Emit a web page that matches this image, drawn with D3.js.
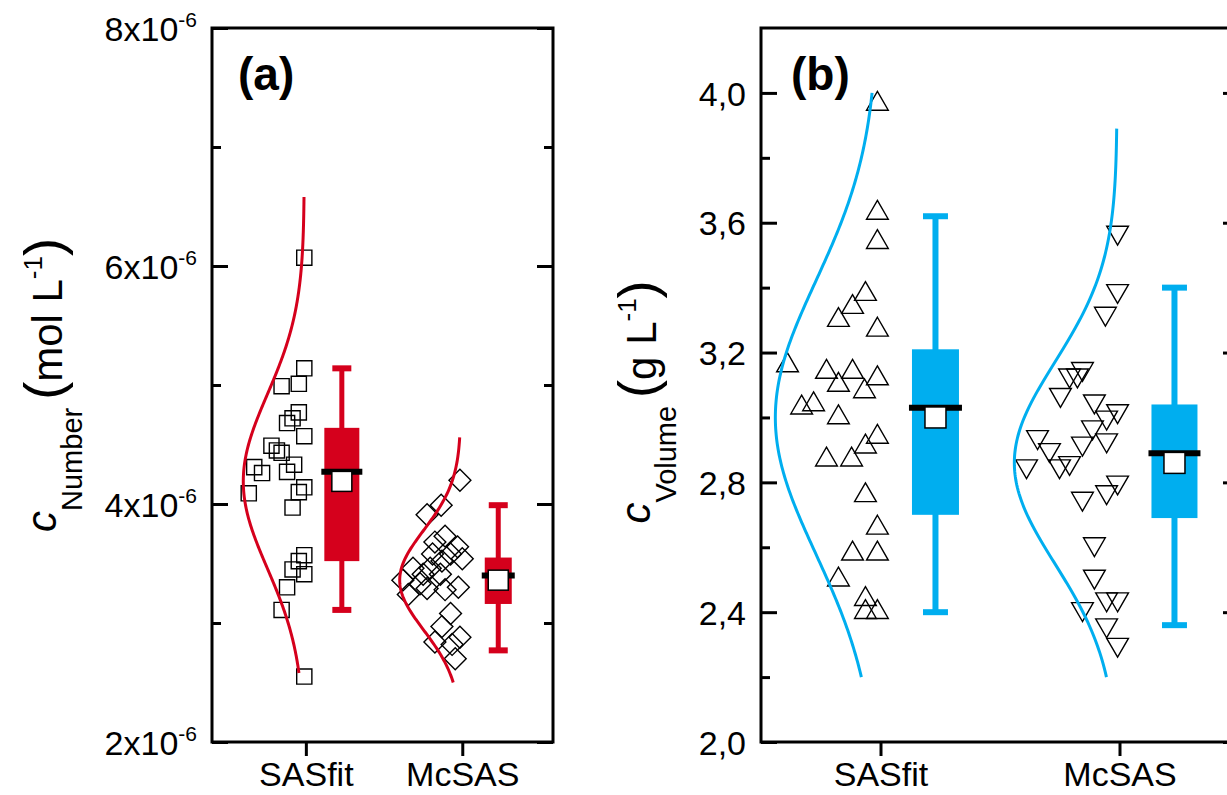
<!DOCTYPE html>
<html>
<head>
<meta charset="utf-8">
<script src="https://cdn.jsdelivr.net/npm/d3@7"></script>
<style>
  body { margin: 0; background: #fff; }
  svg { display: block; font-family: 'Liberation Sans', Arial, sans-serif; }
</style>
</head>
<body>
<svg id="chart" width="1227" height="795"></svg>
<script>
const categories = ['SASfit', 'McSAS'];

// (a) number concentration, values in 1e-6 mol/L
const numTicks = [2, 4, 6, 8];
const numMinorTicks = [3, 5, 7];
const numSASfit = [6.07, 5.14, 5.01, 4.99, 4.77, 4.72, 4.68, 4.57, 4.49, 4.45, 4.43, 4.33, 4.27,
  4.31, 4.26, 4.09, 4.14, 4.10, 3.97, 3.57, 3.52, 3.41, 3.45, 3.30, 3.11, 2.55];
const numSASfitJitter = [-0.01, -0.01, -0.045, -0.155, -0.045, -0.085, -0.12, -0.01, -0.22, -0.185, -0.155, -0.075, -0.12,
  -0.33, -0.28, -0.365, -0.01, -0.045, -0.085, -0.01, -0.045, -0.01, -0.085, -0.12, -0.155, -0.01];
const numMcSAS = [4.20, 3.99, 3.91, 3.73, 3.68, 3.64, 3.58, 3.58, 3.54, 3.52, 3.46, 3.46, 3.41,
  3.41, 3.36, 3.33, 3.29, 3.24, 3.28, 3.30, 3.08, 2.97, 2.88, 2.84, 2.82, 2.70];
const numMcSASJitter = [-0.015, -0.135, -0.225, -0.11, -0.175, -0.03, -0.075, -0.19, 0, -0.13, -0.315, -0.205, -0.25,
  -0.14, -0.38, -0.27, -0.225, -0.345, -0.11, -0.025, -0.075, -0.13, -0.015, -0.175, -0.065, -0.045];
// [whisker low, Q1, median, Q3, whisker high]
const numBoxes = [[3.11, 3.52, 4.27, 4.64, 5.14], [2.77, 3.16, 3.40, 3.55, 3.99]];
const numMeans = [4.19, 3.36];
const numSd = [0.73, 0.42];
const numCurveRange = [[2.58, 6.58], [2.50, 4.56]];

// (b) volume concentration, g/L
const volTicks = [2.0, 2.4, 2.8, 3.2, 3.6, 4.0];
const volMinorTicks = [2.2, 2.6, 3.0, 3.4, 3.8];
const volSASfit = [3.966, 3.63, 3.54, 3.38, 3.34, 3.30, 3.27, 3.16, 3.14, 3.14, 3.12, 3.10, 3.08, 3.03,
  3.04, 3.00, 2.94, 2.91, 2.87, 2.87, 2.76, 2.66, 2.58, 2.58, 2.50, 2.44, 2.40, 2.40];
const volSASfitJitter = [-0.013, -0.013, -0.013, -0.063, -0.117, -0.176, -0.013, -0.389, -0.226, -0.117, -0.013, -0.176, -0.067, -0.33,
  -0.28, -0.176, -0.013, -0.063, -0.226, -0.121, -0.063, -0.013, -0.117, -0.013, -0.176, -0.063, -0.063, -0.013];
const volMcSAS = [3.57, 3.39, 3.32, 3.15, 3.13, 3.13, 3.07, 3.05, 3.02, 3.00, 2.97, 2.94, 2.93, 2.92,
  2.90, 2.86, 2.85, 2.85, 2.80, 2.77, 2.75, 2.61, 2.51, 2.44, 2.44, 2.41, 2.36, 2.30];
const volMcSASJitter = [-0.008, -0.008, -0.059, -0.155, -0.176, -0.209, -0.247, -0.105, -0.008, -0.054, -0.113, -0.343, -0.054, -0.155,
  -0.293, -0.209, -0.251, -0.389, -0.008, -0.054, -0.155, -0.105, -0.105, -0.054, -0.008, -0.155, -0.054, -0.008];
const volBoxes = [[2.40, 2.70, 3.03, 3.21, 3.62], [2.36, 2.69, 2.89, 3.04, 3.40]];
const volMeans = [3.00, 2.86];
const volSd = [0.42, 0.31];
const volCurveRange = [[2.2, 4.0], [2.2, 3.89]];

const svg = d3.select('#chart');

const drawPanel = (p) => {
  const x = d3.scaleLinear().domain(p.xDomain).range([p.left, p.right]);
  const y = d3.scaleLinear().domain(p.yDomain).range([p.bottom, p.top]);
  const g = svg.append('g');

  // Ticks on left and right, all pointing inward.
  const sides = [
    [d3.axisLeft, p.left, 1],
    [d3.axisRight, p.right, 0]
  ];
  sides.forEach(([axisFn, pos, withLabels]) => {
    const minor = g.append('g')
        .attr('transform', 'translate(' + pos + ',0)')
        .call(axisFn(y).tickValues(p.minorTicks).tickSizeInner(-9).tickSizeOuter(0).tickFormat(''));
    const major = g.append('g')
        .attr('transform', 'translate(' + pos + ',0)')
        .call(axisFn(y).tickValues(p.ticks).tickSizeInner(-16).tickSizeOuter(0).tickPadding(15));
    [minor, major].forEach((a) => {
      a.attr('font-size', null).attr('font-family', null);
      a.select('.domain').remove();
      a.selectAll('line').attr('stroke', '#000').attr('stroke-width', 3);
    });
    if (withLabels) {
      major.selectAll('text')
          .attr('fill', '#000')
          .attr('font-size', p.tickFont)
          .attr('dy', '0.36em')
          .each(function (d) { p.tickLabel(d3.select(this), d); });
    } else {
      major.selectAll('text').remove();
    }
  });

  // Category axis, ticks outward.
  const bottom = g.append('g')
      .attr('transform', 'translate(0,' + p.bottom + ')')
      .call(d3.axisBottom(x).tickValues([1, 2]).tickSizeInner(14).tickSizeOuter(0).tickPadding(6)
          .tickFormat((d) => categories[d - 1]));
  bottom.attr('font-size', null).attr('font-family', null);
  bottom.select('.domain').remove();
  bottom.selectAll('line').attr('stroke', '#000').attr('stroke-width', 3);
  bottom.selectAll('text').attr('fill', '#000').attr('font-size', 34);

  // Frame.
  g.append('rect')
      .attr('x', p.left).attr('y', p.top)
      .attr('width', p.right - p.left).attr('height', p.bottom - p.top)
      .attr('fill', 'none').attr('stroke', '#000').attr('stroke-width', 3);

  p.series.forEach((s, i) => {
    // Raw data beside the box.
    g.selectAll(null)
        .data(s.values)
        .enter()
        .append('path')
        .attr('d', d3.symbol().type(s.symbol).size(s.size))
        .attr('transform', (d, j) => 'translate(' + x(i + 1 + s.jitter[j]) + ',' + y(d) + ') rotate(' + s.rotate + ')')
        .attr('fill', 'none')
        .attr('stroke', '#000')
        .attr('stroke-width', 1.4);

    // Normal distribution curve.
    const [lo, hi] = p.curveRange[i];
    const mean = p.means[i], sd = p.sd[i];
    const vals = d3.range(0, 201).map((k) => lo + (hi - lo) * k / 200);
    const curve = d3.line()
        .x((v) => x(i + 1 + p.curveOffset - p.curveAmp * Math.exp(-((v - mean) ** 2) / (2 * sd * sd))))
        .y((v) => y(v));
    g.append('path')
        .attr('d', curve(vals))
        .attr('fill', 'none')
        .attr('stroke', p.color)
        .attr('stroke-width', 3);

    // Box, whiskers, median, mean.
    const [wLo, q1, med, q3, wHi] = p.boxes[i];
    const cx = x(i + 1 + p.boxOffset);
    const bw = p.boxW[i];
    g.append('line')
        .attr('x1', cx).attr('x2', cx)
        .attr('y1', y(wLo)).attr('y2', y(wHi))
        .attr('stroke', p.color).attr('stroke-width', p.whiskerW);
    [wLo, wHi].forEach((v) => {
      g.append('line')
          .attr('x1', cx - p.capW[i] / 2).attr('x2', cx + p.capW[i] / 2)
          .attr('y1', y(v)).attr('y2', y(v))
          .attr('stroke', p.color).attr('stroke-width', 6);
    });
    g.append('rect')
        .attr('x', cx - bw / 2).attr('y', y(q3))
        .attr('width', bw).attr('height', y(q1) - y(q3))
        .attr('fill', p.color);
    g.append('line')
        .attr('x1', cx - bw / 2 - 3).attr('x2', cx + bw / 2 + 3)
        .attr('y1', y(med)).attr('y2', y(med))
        .attr('stroke', '#000').attr('stroke-width', 6);
    g.append('rect')
        .attr('x', cx - p.meanSize / 2).attr('y', y(mean) - p.meanSize / 2)
        .attr('width', p.meanSize).attr('height', p.meanSize)
        .attr('fill', '#fff').attr('stroke', '#000').attr('stroke-width', 1.5);
  });

  // Panel letter.
  g.append('text')
      .attr('x', p.left + p.letterDx).attr('y', 90)
      .attr('font-size', 46).attr('font-weight', 'bold')
      .text(p.letter);

  // Rotated axis title.
  const title = g.append('text')
      .attr('transform', 'translate(' + p.titleX + ',' + p.titleY + ') rotate(-90)')
      .attr('text-anchor', 'middle')
      .attr('fill', '#000');
  title.append('tspan').attr('font-size', 42).attr('font-style', 'italic').attr('dy', -6).text('c');
  title.append('tspan').attr('font-size', 29).attr('dy', 26).text(p.sub);
  title.append('tspan').attr('font-size', 54).attr('dx', 8).attr('dy', -20).text('(');
  title.append('tspan').attr('font-size', 42).text(p.unit);
  title.append('tspan').attr('font-size', 26).attr('dy', -20).text('-1');
  title.append('tspan').attr('font-size', 54).attr('dy', 20).text(')');
};

drawPanel({
  left: 212, right: 553, top: 28, bottom: 742,
  xDomain: [0.4, 2.58], yDomain: [2, 8],
  ticks: numTicks, minorTicks: numMinorTicks, tickFont: 34,
  tickLabel: (t, d) => {
    t.text('');
    t.append('tspan').text(d + 'x10');
    t.append('tspan').attr('font-size', 21).attr('dy', -14).text('-6');
  },
  color: '#d5001c',
  series: [
    { values: numSASfit, jitter: numSASfitJitter, symbol: d3.symbolSquare, size: 230, rotate: 0 },
    { values: numMcSAS, jitter: numMcSASJitter, symbol: d3.symbolSquare, size: 240, rotate: 45 }
  ],
  boxes: numBoxes, means: numMeans, sd: numSd, curveRange: numCurveRange,
  curveAmp: 0.39, curveOffset: -0.01, boxOffset: 0.23,
  boxW: [35, 27], capW: [19, 19], whiskerW: 5, meanSize: 20,
  letter: '(a)', letterDx: 26,
  titleX: 62, titleY: 385, sub: 'Number', unit: 'mol L'
});

drawPanel({
  left: 761, right: 1239, top: 28, bottom: 742,
  xDomain: [0.5, 2.5], yDomain: [2.0, 4.2],
  ticks: volTicks, minorTicks: volMinorTicks, tickFont: 34,
  tickLabel: (t, d) => t.text(d3.format('.1f')(d).replace('.', ',')),
  color: '#00aeef',
  series: [
    { values: volSASfit, jitter: volSASfitJitter, symbol: d3.symbolTriangle, size: 205, rotate: 0 },
    { values: volMcSAS, jitter: volMcSASJitter, symbol: d3.symbolTriangle, size: 205, rotate: 180 }
  ],
  boxes: volBoxes, means: volMeans, sd: volSd, curveRange: volCurveRange,
  curveAmp: 0.43, curveOffset: -0.01, boxOffset: 0.23,
  boxW: [47, 46], capW: [25, 25], whiskerW: 6, meanSize: 21,
  letter: '(b)', letterDx: 30,
  titleX: 656, titleY: 402, sub: 'Volume', unit: 'g L'
});
</script>
</body>
</html>
